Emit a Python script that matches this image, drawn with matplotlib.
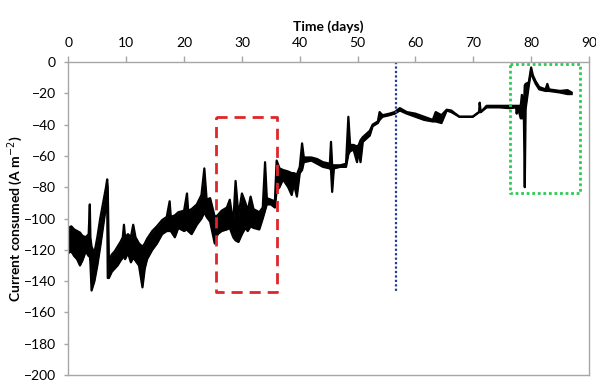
import matplotlib
matplotlib.use("Agg")
import matplotlib.pyplot as plt

# envelope of the noisy current record
t_days = [0.0, 0.5, 1.0, 1.5, 2.0, 2.4, 3.0, 3.5, 3.7, 3.8, 4.0, 4.5, 5.0, 5.5,
          6.0, 6.5, 6.7, 6.8, 7.0, 7.5, 8.0, 8.5, 9.0, 9.4, 9.6, 9.8, 10.3, 10.8,
          11.2, 11.6, 12.2, 12.8, 13.2, 13.6, 14.5, 15.3, 16.2, 17.0, 17.5, 17.7,
          18.4, 19.0, 20.0, 20.5, 20.7, 21.3, 22.2, 23.0, 23.5, 23.9, 24.5, 25.3,
          25.8, 26.5, 27.4, 27.9, 28.5, 28.9, 29.4, 30.0, 30.6, 31.0, 31.5, 32.0,
          33.0, 33.6, 34.0, 34.3, 35.0, 35.7, 36.0, 36.5, 37.1, 38.0, 38.6, 39.0,
          39.5, 40.0, 40.4, 40.7, 42.0, 43.0, 44.0, 45.2, 45.4, 45.6, 45.9, 47.0,
          48.0, 48.4, 48.7, 49.3, 49.9, 50.2, 50.5, 50.9, 52.1, 52.6, 53.5, 53.8,
          54.3, 55.5, 56.4, 57.3, 58.5, 60.0, 61.5, 63.0, 63.5, 64.5, 65.4, 66.2,
          67.6, 69.9, 71.0, 71.1, 71.3, 72.3, 74.5, 76.3, 77.4, 77.5, 77.7, 78.2,
          78.4, 78.75, 78.9, 79.05, 79.6, 80.0, 80.3, 80.8, 81.4, 82.5, 82.8, 83.1,
          85.0, 86.3, 87.0]
lower = [-122, -121, -124, -126, -130, -127, -121, -124, -124, -128, -146, -140,
         -130, -118, -105, -92, -88, -138, -138, -134, -132, -130, -127, -125,
         -124, -126, -122, -128, -125, -127, -130, -144, -132, -126, -120, -116,
         -110, -108, -108, -108, -112, -106, -108, -107, -108, -110, -104, -100,
         -96, -99, -102, -116, -110, -108, -107, -106, -112, -114, -115, -110,
         -106, -108, -105, -106, -107, -100, -95, -91, -91, -93, -82, -80, -75,
         -80, -85, -78, -86, -71, -69, -64, -63, -65, -67, -68, -69, -83, -68,
         -67, -67, -59, -57, -56, -64, -57, -64, -51, -47, -41, -39, -37, -35,
         -34, -33, -31, -33, -35, -37, -38, -38, -39, -31, -32, -35, -35, -32,
         -32, -32, -29, -29, -29.5, -29, -33, -29, -36, -36, -36, -80, -30, -15,
         -5.5, -10, -14, -17.5, -18.5, -18.5, -18.5, -19.5, -20.5, -20.5]
upper = [-106, -105, -107, -108, -109, -111, -112, -110, -91, -112, -118, -122,
         -112, -100, -90, -80, -75, -80, -127, -123, -121, -118, -115, -112,
         -104, -112, -110, -112, -104, -112, -116, -118, -116, -113, -108, -105,
         -101, -99, -89, -99, -98, -96, -95, -84, -95, -94, -91, -85, -68, -88,
         -87, -99, -98, -95, -93, -88, -103, -76, -98, -84, -90, -95, -86, -94,
         -96, -93, -64, -87, -88, -89, -63, -68, -69, -70, -71, -71, -72, -67,
         -52, -61, -61, -62, -64, -65, -51, -66, -66, -66, -65, -35, -53, -53,
         -54, -53, -50, -48, -44, -40, -38, -32, -34, -33, -32, -29.5, -32, -33,
         -35, -37, -32, -34, -30.5, -31, -35, -35, -32, -26, -32, -28, -28,
         -28, -28, -28, -28, -28, -21, -28.5, -15, -14, -13, -3.5, -8.5, -12.5,
         -16, -17.5, -14, -17.5, -18.5, -18, -19.5]

x_ticks = [0, 10, 20, 30, 40, 50, 60, 70, 80, 90]
y_ticks = [0, -20, -40, -60, -80, -100, -120, -140, -160, -180, -200]

# highlighted periods: (t start, t end, current top, current bottom)
red_box = (25.5, 36.0, -35.3, -147)
green_box = (76.4, 88.4, -1.5, -83.4)
blue_day = 56.7
blue_bottom = -147

plt.rcParams['font.family'] = ['Lato', 'DejaVu Sans']
plt.rcParams['font.size'] = 10

fig = plt.figure(figsize=(5.96, 3.81), dpi=100)
ax = fig.add_axes([0.1148, 0.0157, 0.8734, 0.8216])

ax.fill_between(t_days, lower, upper, color='black', linewidth=0)
ax.plot(t_days, upper, color='black', lw=1.6)
ax.plot(t_days, lower, color='black', lw=1.6)

x0, x1, ytop, ybot = red_box
ax.plot([x0, x1, x1, x0, x0], [ytop, ytop, ybot, ybot, ytop],
        color='#E0262B', lw=2, linestyle=(0, (4, 2.5)))
x0, x1, ytop, ybot = green_box
ax.plot([x0, x1, x1, x0, x0], [ytop, ytop, ybot, ybot, ytop],
        color='#2BCB55', lw=2, linestyle=(0, (1, 1)))
ax.plot([blue_day, blue_day], [0, blue_bottom], color='#1F3F8F', lw=1.6,
        linestyle=(0, (1, 1)))

ax.set_xlim(0, 90)
ax.set_ylim(-200, 0)
ax.xaxis.tick_top()
ax.xaxis.set_label_position('top')
ax.set_xticks(x_ticks)
ax.set_yticks(y_ticks)
ax.set_xlabel('Time (days)', fontweight='bold', labelpad=5)
ax.set_ylabel('Current consumed (A m$^{-2}$)', fontweight='bold', labelpad=-1)

for s in ax.spines.values():
    s.set_color('#A6A6A6')
    s.set_linewidth(1)
ax.tick_params(axis='x', length=4, width=1, color='#A6A6A6', pad=5)
ax.tick_params(axis='y', length=3, width=1, color='#A6A6A6', pad=6)

fig.savefig('out.png', dpi=100)
